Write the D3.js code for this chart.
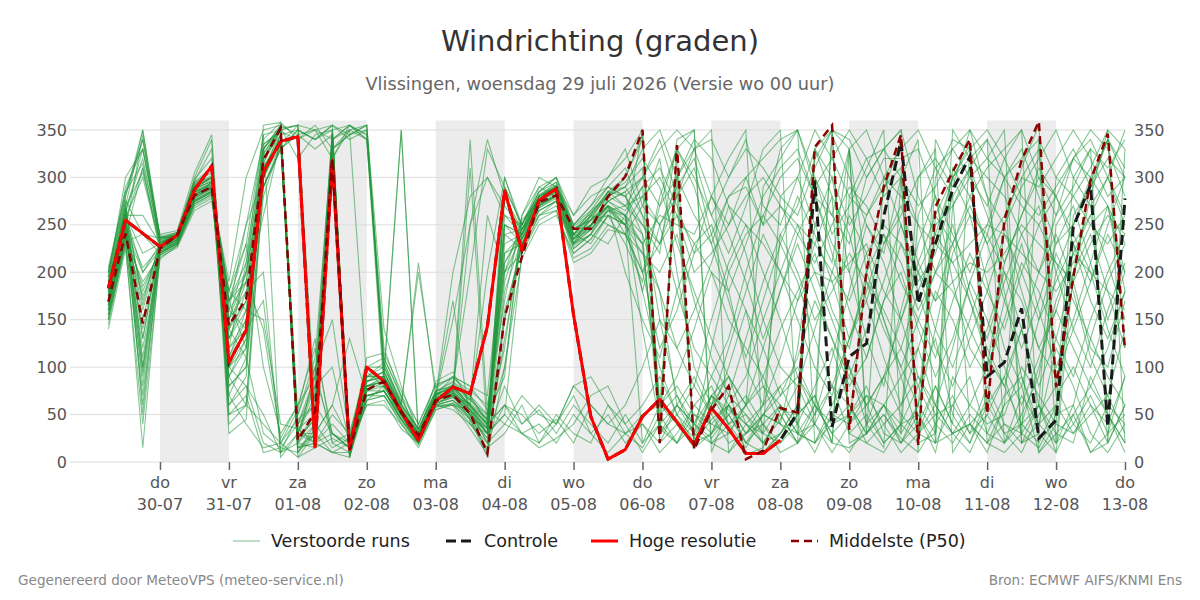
<!DOCTYPE html>
<html lang="nl">
<head>
<meta charset="utf-8">
<title>Windrichting (graden)</title>
<script src="https://d3js.org/d3.v7.min.js"></script>
<style>
  body { margin: 0; background: #fff; }
  svg text { font-family: "DejaVu Sans", Verdana, sans-serif; }
</style>
</head>
<body>
<div id="chart"></div>
<script>
// run start, 6-hourly steps
var startTime = new Date(2026, 6, 29, 6);
var endTime = new Date(2026, 7, 13, 0);
var stepHours = 6;

var yTicks = [0, 50, 100, 150, 200, 250, 300, 350];
var dayNames = ["zo", "ma", "di", "wo", "do", "vr", "za"];

// hoge resolutie (ends 08-08)
var hiRes = [183, 255, 241, 227, 239, 287, 312, 105, 139, 306,
             338, 343, 16, 318, 13, 100, 85, 53, 23, 64,
             79, 72, 143, 286, 223, 276, 288, 155, 48, 3,
             13, 48, 66, 42, 18, 57, 35, 9, 9, 23];

// controle: hidden under the red line until 08-08
var control = [183, 255, 241, 227, 239, 287, 312, 105, 139, 306,
               338, 343, 16, 318, 13, 100, 85, 53, 23, 64,
               79, 72, 143, 286, 223, 276, 288, 155, 48, 3,
               13, 48, 66, 42, 18, 57, 35, 9, 9, 23,
               52, 297, 37, 111, 125, 259, 338, 167, 230, 287,
               322, 90, 105, 162, 25, 44, 248, 292, 37, 278];

// middelste (P50)
var median = [169, 241, 146, 225, 239, 281, 290, 144, 172, 318,
              352, 23, 53, 320, 13, 76, 85, 53, 28, 65,
              71, 51, 9, 153, 216, 274, 281, 246, 246, 280,
              301, 350, 20, 334, 13, 55, 80, 3, 12, 57,
              52, 332, 355, 34, 202, 290, 345, 18, 269, 306,
              340, 51, 255, 318, 359, 79, 195, 297, 346, 118];

// verstoorde runs
var members = [
  [175, 250, 160, 228, 238, 282, 292, 140, 170, 315, 350, 25, 45, 325, 15, 80, 88, 55, 30, 66, 72, 50, 12, 160, 225, 272, 282, 245, 248, 278, 300, 345, 25, 330, 15, 60, 78, 8, 15, 55, 50, 320, 350, 40, 200, 285, 340, 20, 260, 300, 335, 55, 250, 310, 355, 80, 190, 295, 340, 120],
  [190, 265, 320, 232, 240, 290, 300, 90, 120, 330, 355, 10, 35, 345, 20, 95, 80, 50, 25, 70, 80, 60, 30, 210, 240, 280, 290, 235, 255, 270, 260, 230, 60, 45, 25, 70, 55, 40, 30, 280, 300, 250, 210, 330, 40, 60, 30, 260, 310, 280, 40, 20, 60, 300, 330, 20, 230, 260, 300, 250],
  [160, 240, 120, 220, 232, 275, 285, 170, 200, 300, 340, 40, 90, 350, 10, 70, 75, 45, 20, 60, 65, 45, 25, 250, 230, 265, 275, 225, 240, 285, 270, 300, 340, 280, 20, 45, 60, 30, 50, 40, 20, 60, 345, 300, 250, 220, 300, 30, 80, 40, 330, 280, 180, 90, 30, 10, 200, 280, 350, 330],
  [200, 280, 340, 235, 242, 295, 310, 60, 80, 20, 10, 50, 100, 20, 30, 90, 100, 60, 35, 75, 85, 70, 40, 60, 50, 30, 45, 20, 60, 40, 30, 15, 50, 70, 40, 90, 60, 20, 10, 30, 60, 40, 20, 15, 30, 50, 25, 10, 40, 70, 30, 80, 40, 20, 60, 30, 50, 10, 20, 60],
  [150, 230, 90, 218, 228, 270, 280, 120, 150, 290, 330, 350, 340, 355, 5, 65, 70, 40, 15, 55, 60, 35, 8, 100, 215, 250, 260, 220, 235, 260, 250, 280, 300, 260, 230, 250, 200, 240, 260, 300, 320, 280, 260, 230, 300, 330, 350, 10, 340, 300, 260, 240, 300, 330, 280, 230, 250, 290, 320, 300],
  [185, 270, 350, 238, 236, 300, 340, 40, 60, 40, 20, 5, 30, 60, 25, 100, 110, 70, 40, 80, 90, 80, 55, 40, 30, 15, 25, 40, 70, 80, 40, 60, 90, 50, 30, 20, 10, 30, 60, 240, 270, 330, 350, 20, 30, 60, 90, 120, 60, 30, 10, 50, 90, 140, 60, 20, 40, 70, 30, 90],
  [170, 255, 150, 226, 238, 285, 288, 180, 230, 345, 5, 30, 70, 340, 355, 345, 120, 70, 25, 65, 75, 250, 340, 280, 245, 285, 300, 250, 270, 290, 280, 250, 220, 340, 350, 20, 40, 60, 290, 320, 350, 300, 240, 270, 310, 350, 30, 60, 250, 270, 310, 340, 20, 50, 90, 200, 250, 300, 270, 200],
  [165, 245, 110, 222, 230, 280, 295, 100, 140, 310, 345, 15, 20, 10, 5, 85, 95, 60, 210, 70, 170, 40, 15, 30, 60, 20, 40, 70, 30, 50, 20, 40, 10, 30, 60, 80, 40, 15, 50, 80, 40, 10, 50, 90, 60, 20, 40, 80, 130, 50, 20, 60, 30, 10, 50, 80, 40, 20, 60, 40],
  [195, 300, 330, 240, 244, 305, 345, 70, 110, 355, 358, 340, 355, 330, 345, 355, 140, 80, 30, 85, 95, 60, 200, 300, 250, 290, 280, 230, 260, 250, 240, 200, 270, 300, 260, 230, 280, 300, 250, 270, 240, 210, 250, 290, 270, 230, 260, 300, 320, 290, 350, 320, 300, 270, 250, 280, 320, 340, 300, 260],
  [155, 235, 70, 216, 226, 265, 275, 160, 190, 140, 25, 60, 120, 30, 15, 60, 65, 35, 20, 60, 60, 55, 20, 130, 235, 260, 270, 230, 250, 275, 260, 240, 35, 20, 40, 25, 50, 20, 40, 60, 30, 20, 60, 100, 40, 15, 300, 340, 20, 60, 90, 30, 20, 70, 40, 120, 80, 30, 10, 40],
  [180, 260, 200, 230, 240, 290, 300, 110, 160, 325, 352, 320, 345, 350, 8, 75, 85, 50, 25, 68, 70, 45, 5, 290, 250, 280, 295, 240, 265, 280, 290, 330, 350, 300, 20, 30, 50, 70, 40, 20, 50, 70, 20, 330, 350, 300, 280, 250, 230, 300, 320, 300, 280, 240, 200, 260, 320, 350, 330, 280],
  [140, 225, 40, 214, 228, 268, 278, 180, 250, 300, 340, 20, 40, 340, 12, 90, 90, 55, 30, 62, 68, 62, 45, 220, 240, 275, 285, 240, 230, 260, 230, 190, 280, 330, 300, 260, 220, 270, 330, 350, 30, 60, 40, 50, 80, 30, 20, 50, 10, 90, 60, 100, 210, 260, 300, 280, 240, 200, 180, 160],
  [205, 285, 315, 236, 238, 292, 310, 80, 100, 280, 335, 355, 20, 40, 20, 110, 115, 75, 40, 82, 88, 75, 60, 170, 260, 300, 290, 260, 290, 300, 320, 350, 30, 50, 20, 70, 90, 40, 20, 45, 80, 40, 350, 330, 200, 150, 90, 30, 20, 270, 300, 320, 350, 20, 30, 250, 280, 310, 350, 20],
  [175, 250, 180, 225, 235, 282, 290, 130, 180, 200, 10, 30, 80, 350, 10, 65, 80, 50, 25, 60, 55, 40, 30, 80, 40, 55, 30, 60, 40, 20, 50, 20, 60, 40, 15, 30, 70, 50, 30, 60, 30, 40, 80, 60, 20, 10, 40, 50, 20, 30, 40, 20, 10, 30, 15, 50, 60, 10, 30, 50],
  [160, 245, 345, 228, 234, 278, 290, 170, 210, 320, 345, 25, 50, 330, 345, 355, 90, 60, 30, 72, 78, 65, 50, 200, 255, 275, 290, 250, 270, 300, 330, 270, 250, 280, 330, 350, 10, 40, 20, 50, 20, 330, 300, 250, 280, 320, 320, 330, 280, 240, 200, 250, 300, 320, 340, 300, 280, 250, 230, 260],
  [190, 275, 100, 234, 240, 295, 305, 60, 90, 330, 350, 5, 15, 25, 15, 70, 75, 45, 20, 58, 62, 40, 20, 240, 225, 260, 265, 210, 220, 245, 240, 220, 180, 60, 40, 20, 30, 60, 90, 50, 20, 40, 10, 40, 70, 60, 20, 40, 80, 40, 20, 70, 30, 40, 20, 60, 30, 50, 70, 30],
  [170, 260, 220, 230, 238, 288, 296, 150, 200, 310, 340, 40, 60, 320, 355, 340, 100, 65, 35, 75, 80, 60, 40, 100, 240, 270, 280, 235, 245, 265, 270, 250, 230, 300, 340, 320, 270, 250, 230, 200, 170, 200, 190, 210, 230, 180, 150, 200, 240, 210, 230, 250, 240, 220, 200, 180, 210, 250, 270, 230],
  [145, 230, 15, 220, 230, 272, 282, 190, 300, 350, 355, 345, 330, 345, 5, 80, 90, 350, 25, 65, 70, 310, 30, 50, 30, 20, 50, 30, 20, 60, 40, 10, 40, 330, 350, 10, 60, 40, 60, 80, 100, 60, 30, 10, 40, 90, 50, 30, 60, 30, 40, 10, 60, 80, 10, 30, 20, 90, 50, 10],
  [180, 270, 305, 232, 238, 290, 298, 50, 70, 10, 15, 10, 40, 15, 25, 85, 95, 55, 30, 68, 72, 55, 30, 280, 240, 280, 290, 240, 260, 285, 280, 300, 330, 350, 330, 280, 250, 300, 320, 340, 350, 20, 40, 60, 30, 300, 330, 350, 310, 330, 350, 280, 250, 290, 320, 350, 300, 270, 300, 350],
  [165, 240, 140, 224, 232, 276, 286, 170, 120, 300, 335, 30, 20, 10, 20, 60, 60, 40, 18, 55, 62, 48, 35, 300, 245, 268, 278, 228, 240, 268, 250, 20, 40, 60, 30, 70, 40, 50, 20, 30, 60, 330, 280, 30, 50, 20, 40, 300, 330, 10, 40, 60, 90, 30, 60, 300, 330, 290, 50, 20],
  [200, 290, 330, 238, 242, 298, 320, 30, 45, 300, 355, 50, 110, 340, 355, 340, 75, 50, 25, 70, 90, 80, 70, 250, 240, 278, 290, 245, 255, 260, 250, 180, 250, 290, 320, 260, 300, 340, 270, 250, 300, 350, 320, 280, 260, 290, 310, 20, 30, 310, 280, 310, 330, 350, 300, 260, 290, 330, 310, 340],
  [175, 255, 80, 227, 236, 284, 294, 120, 140, 170, 20, 45, 60, 30, 15, 75, 80, 48, 22, 62, 68, 52, 20, 40, 70, 50, 40, 80, 90, 60, 30, 50, 60, 80, 50, 40, 60, 30, 50, 70, 90, 60, 30, 50, 70, 40, 60, 90, 50, 30, 60, 40, 50, 100, 70, 40, 30, 60, 40, 90],
  [155, 238, 310, 222, 230, 275, 285, 90, 60, 290, 330, 350, 340, 355, 345, 350, 95, 350, 30, 66, 75, 340, 50, 220, 230, 270, 280, 230, 240, 230, 260, 290, 310, 270, 220, 240, 280, 290, 250, 330, 350, 290, 320, 350, 320, 280, 300, 250, 200, 230, 270, 230, 260, 300, 290, 320, 350, 320, 280, 300],
  [185, 265, 50, 230, 240, 286, 292, 160, 250, 340, 358, 15, 30, 345, 20, 80, 85, 52, 28, 70, 74, 58, 40, 120, 250, 285, 300, 240, 250, 270, 250, 350, 20, 40, 20, 60, 90, 60, 30, 20, 40, 300, 260, 330, 30, 60, 40, 20, 300, 340, 330, 20, 40, 30, 340, 70, 100, 60, 20, 330],
  [170, 250, 130, 226, 234, 280, 288, 70, 40, 15, 20, 55, 130, 20, 10, 70, 70, 45, 20, 60, 65, 50, 25, 60, 30, 40, 20, 50, 30, 10, 30, 40, 20, 60, 90, 50, 20, 30, 40, 10, 20, 50, 80, 30, 20, 40, 10, 30, 50, 60, 30, 50, 20, 40, 60, 10, 50, 80, 50, 20],
  [195, 280, 350, 236, 240, 294, 300, 100, 130, 320, 350, 355, 350, 340, 350, 85, 90, 55, 30, 72, 78, 60, 45, 280, 235, 270, 285, 240, 260, 280, 290, 310, 60, 300, 330, 340, 300, 330, 310, 280, 260, 310, 350, 340, 300, 330, 350, 280, 240, 300, 330, 350, 320, 280, 260, 290, 320, 300, 340, 310],
  [160, 245, 200, 224, 232, 278, 288, 150, 180, 260, 340, 30, 90, 300, 15, 90, 90, 55, 28, 68, 150, 250, 300, 260, 240, 280, 290, 245, 255, 270, 240, 200, 230, 260, 200, 220, 250, 280, 300, 270, 250, 230, 200, 170, 220, 250, 230, 200, 170, 190, 210, 200, 220, 250, 230, 210, 190, 230, 260, 240],
  [150, 235, 190, 218, 228, 272, 282, 140, 200, 335, 350, 20, 50, 340, 10, 80, 85, 50, 25, 65, 70, 50, 30, 180, 235, 272, 280, 232, 248, 275, 265, 290, 30, 60, 40, 70, 50, 20, 50, 40, 30, 20, 50, 40, 60, 90, 120, 80, 40, 20, 50, 30, 70, 90, 40, 20, 60, 130, 90, 60],
  [185, 265, 170, 232, 240, 288, 300, 130, 160, 150, 40, 35, 20, 50, 30, 100, 100, 60, 35, 75, 80, 68, 45, 210, 245, 278, 290, 235, 255, 285, 300, 340, 50, 20, 60, 40, 30, 60, 80, 60, 40, 80, 120, 60, 30, 50, 20, 60, 30, 350, 320, 340, 300, 20, 40, 60, 300, 330, 20, 60],
  [175, 258, 300, 228, 236, 284, 294, 80, 100, 330, 355, 30, 30, 10, 10, 65, 70, 42, 20, 58, 60, 45, 10, 150, 230, 265, 275, 220, 235, 260, 250, 230, 260, 250, 240, 280, 320, 350, 10, 30, 50, 70, 20, 280, 320, 330, 300, 270, 290, 330, 300, 270, 320, 350, 10, 40, 260, 290, 340, 300],
  [165, 250, 95, 225, 234, 280, 290, 120, 210, 345, 350, 355, 60, 345, 10, 80, 80, 50, 25, 65, 75, 55, 35, 250, 240, 275, 285, 235, 250, 270, 200, 150, 110, 180, 230, 200, 150, 120, 90, 140, 180, 220, 160, 120, 200, 240, 190, 150, 110, 170, 220, 180, 140, 200, 250, 210, 170, 130, 190, 230],
  [180, 262, 330, 230, 238, 288, 296, 150, 220, 330, 352, 30, 25, 335, 20, 90, 95, 55, 30, 70, 80, 200, 330, 290, 250, 285, 295, 250, 265, 290, 310, 260, 150, 70, 30, 120, 200, 160, 80, 40, 120, 250, 300, 200, 130, 80, 160, 230, 280, 190, 120, 90, 170, 230, 160, 100, 150, 210, 270, 180],
  [170, 248, 60, 224, 232, 278, 288, 100, 80, 50, 10, 20, 100, 150, 25, 90, 105, 62, 200, 78, 90, 70, 50, 90, 260, 290, 300, 260, 280, 290, 280, 240, 180, 120, 160, 210, 270, 220, 150, 100, 80, 140, 200, 260, 220, 150, 100, 60, 140, 220, 260, 190, 120, 80, 150, 220, 180, 110, 70, 140],
  [190, 270, 165, 234, 240, 290, 300, 140, 190, 290, 330, 345, 350, 320, 350, 355, 85, 58, 28, 70, 82, 65, 260, 200, 220, 255, 265, 215, 225, 250, 240, 270, 320, 200, 100, 60, 120, 180, 240, 200, 150, 100, 70, 130, 180, 240, 210, 160, 200, 250, 180, 130, 190, 240, 270, 200, 140, 100, 160, 210],
  [150, 232, 240, 220, 230, 274, 284, 170, 230, 100, 30, 60, 90, 30, 15, 75, 75, 45, 22, 62, 70, 55, 30, 50, 220, 260, 275, 230, 245, 270, 255, 230, 60, 90, 140, 200, 180, 100, 60, 110, 170, 230, 280, 240, 170, 110, 60, 120, 180, 150, 100, 140, 200, 170, 120, 160, 220, 260, 210, 150],
  [200, 285, 340, 236, 240, 296, 330, 50, 60, 320, 355, 15, 20, 30, 20, 85, 90, 52, 28, 68, 72, 60, 40, 240, 245, 282, 292, 248, 262, 282, 295, 320, 290, 230, 180, 130, 90, 60, 120, 180, 230, 180, 130, 90, 140, 190, 250, 200, 140, 100, 150, 210, 250, 180, 120, 90, 140, 190, 240, 200],
  [160, 240, 185, 222, 232, 276, 286, 160, 140, 300, 345, 10, 30, 60, 130, 70, 75, 48, 22, 60, 65, 50, 30, 280, 230, 265, 275, 225, 240, 265, 260, 180, 100, 50, 80, 150, 210, 250, 200, 150, 90, 50, 110, 180, 250, 210, 150, 90, 60, 120, 190, 240, 200, 140, 80, 130, 200, 240, 180, 120],
  [175, 255, 310, 228, 236, 284, 292, 130, 170, 335, 348, 340, 350, 355, 340, 350, 110, 68, 30, 72, 78, 58, 38, 190, 245, 275, 290, 240, 255, 275, 285, 200, 120, 160, 220, 280, 240, 190, 130, 180, 240, 280, 220, 160, 110, 170, 230, 180, 120, 80, 130, 180, 240, 200, 150, 190, 230, 170, 130, 180],
  [185, 268, 130, 232, 240, 288, 296, 90, 130, 310, 340, 25, 45, 340, 5, 70, 75, 45, 22, 62, 70, 52, 30, 230, 240, 270, 282, 230, 245, 265, 250, 220, 200, 240, 170, 110, 70, 130, 190, 240, 200, 150, 180, 220, 190, 140, 100, 150, 200, 180, 140, 100, 150, 210, 180, 130, 90, 150, 200, 240],
  [170, 250, 205, 226, 234, 282, 290, 110, 150, 320, 350, 20, 15, 345, 15, 80, 85, 50, 25, 66, 74, 56, 36, 260, 250, 280, 290, 245, 258, 280, 270, 280, 250, 180, 120, 90, 130, 200, 260, 230, 190, 130, 80, 130, 190, 160, 120, 180, 230, 210, 170, 110, 80, 140, 200, 240, 190, 120, 100, 170],
  [155, 236, 175, 220, 230, 274, 284, 180, 160, 290, 335, 35, 50, 330, 350, 340, 95, 58, 28, 68, 76, 60, 40, 60, 40, 60, 40, 80, 60, 40, 60, 100, 150, 120, 80, 50, 100, 160, 120, 70, 110, 170, 130, 80, 110, 170, 200, 140, 90, 130, 190, 150, 100, 60, 110, 160, 120, 80, 120, 180],
  [195, 276, 240, 236, 242, 292, 302, 100, 120, 300, 345, 350, 340, 350, 355, 345, 105, 62, 34, 74, 84, 66, 44, 200, 238, 268, 280, 235, 250, 275, 285, 300, 270, 330, 290, 230, 170, 110, 170, 230, 280, 240, 190, 130, 170, 230, 270, 210, 170, 230, 280, 230, 170, 120, 170, 230, 270, 210, 150, 200],
  [165, 245, 100, 224, 234, 280, 290, 140, 110, 30, 15, 40, 80, 100, 20, 80, 85, 50, 25, 66, 72, 55, 35, 150, 235, 270, 282, 238, 250, 270, 260, 140, 40, 20, 50, 30, 60, 90, 150, 200, 250, 200, 150, 100, 60, 90, 150, 210, 260, 230, 170, 120, 80, 40, 100, 170, 220, 200, 140, 90],
  [180, 260, 260, 230, 238, 286, 294, 170, 190, 325, 352, 355, 20, 345, 10, 85, 90, 52, 28, 70, 200, 280, 300, 270, 245, 280, 292, 245, 262, 285, 290, 260, 230, 280, 310, 240, 180, 230, 280, 310, 330, 280, 230, 200, 260, 300, 250, 190, 220, 280, 310, 260, 210, 260, 310, 280, 230, 190, 250, 300]
];

var width = 1200, height = 600;
var plotLeft = 70, plotRight = 1125;

var x = d3.scaleTime()
  .domain([startTime, endTime])
  .range([108.3, 1125]);

var y = d3.scaleLinear()
  .domain([0, 360])
  .range([462, 120.5]);

function timeAt(i) {
  return d3.timeHour.offset(startTime, i * stepHours);
}

var svg = d3.select("#chart")
  .append("svg")
  .attr("width", width)
  .attr("height", height);

// titles
svg.append("text")
  .attr("x", 600).attr("y", 51)
  .attr("text-anchor", "middle")
  .style("font-size", "29px")
  .style("fill", "#333")
  .text("Windrichting (graden)");

svg.append("text")
  .attr("x", 600).attr("y", 90)
  .attr("text-anchor", "middle")
  .style("font-size", "17.7px")
  .style("fill", "#666")
  .text("Vlissingen, woensdag 29 juli 2026 (Versie wo 00 uur)");

// shaded days (every other day from do 30-07)
var firstDay = new Date(2026, 6, 30);
var shadeDays = d3.range(0, 14, 2).map(function(k) { return d3.timeDay.offset(firstDay, k); });

svg.append("g").selectAll("rect")
  .data(shadeDays)
  .enter().append("rect")
  .attr("x", function(d) { return x(d); })
  .attr("y", y(360))
  .attr("width", function(d) { return x(d3.timeDay.offset(d, 1)) - x(d); })
  .attr("height", y(0) - y(360))
  .attr("fill", "#ececec");

// grid
svg.append("g").selectAll("line")
  .data(yTicks)
  .enter().append("line")
  .attr("x1", plotLeft).attr("x2", plotRight)
  .attr("y1", function(d) { return y(d); })
  .attr("y2", function(d) { return y(d); })
  .attr("stroke", "#dcdcdc")
  .attr("stroke-width", 1);

// y labels both sides
var yl = svg.append("g").style("font-size", "16px").style("fill", "#555");
yl.selectAll("text.l")
  .data(yTicks)
  .enter().append("text")
  .attr("class", "l")
  .attr("x", 67)
  .attr("y", function(d) { return y(d); })
  .attr("dy", "0.35em")
  .attr("text-anchor", "end")
  .text(function(d) { return d; });
yl.selectAll("text.r")
  .data(yTicks)
  .enter().append("text")
  .attr("class", "r")
  .attr("x", 1134)
  .attr("y", function(d) { return y(d); })
  .attr("dy", "0.35em")
  .attr("text-anchor", "start")
  .text(function(d) { return d; });

// x axis
var tickDays = d3.timeDay.range(firstDay, d3.timeHour.offset(endTime, 1));
var xAxis = d3.axisBottom(x)
  .tickValues(tickDays)
  .tickSize(8)
  .tickFormat("");

var gx = svg.append("g")
  .attr("transform", "translate(0," + y(0) + ")")
  .call(xAxis);
gx.select(".domain").remove();
gx.selectAll(".tick line").attr("stroke", "#666").attr("stroke-width", 1.5);

var fmtDate = d3.timeFormat("%d-%m");
var xl = svg.append("g").style("font-size", "16px").style("fill", "#555");
xl.selectAll("text.wd")
  .data(tickDays)
  .enter().append("text")
  .attr("x", function(d) { return x(d); })
  .attr("y", 488)
  .attr("text-anchor", "middle")
  .text(function(d) { return dayNames[d.getDay()]; });
xl.selectAll("text.dt")
  .data(tickDays)
  .enter().append("text")
  .attr("x", function(d) { return x(d); })
  .attr("y", 510)
  .attr("text-anchor", "middle")
  .text(function(d) { return fmtDate(d); });

// lines
var line = d3.line()
  .x(function(d, i) { return x(timeAt(i)); })
  .y(function(d) { return y(d); });

svg.append("g").selectAll("path")
  .data(members)
  .enter().append("path")
  .attr("d", line)
  .attr("fill", "none")
  .attr("stroke", "#21973a")
  .attr("stroke-opacity", 0.55)
  .attr("stroke-width", 1.1);

svg.append("path")
  .datum(control)
  .attr("d", line)
  .attr("fill", "none")
  .attr("stroke", "#1a1a1a")
  .attr("stroke-width", 3)
  .attr("stroke-dasharray", "10,5");

svg.append("path")
  .datum(hiRes)
  .attr("d", line)
  .attr("fill", "none")
  .attr("stroke", "#ff0000")
  .attr("stroke-width", 3)
  .attr("stroke-linejoin", "round");

svg.append("path")
  .datum(median)
  .attr("d", line)
  .attr("fill", "none")
  .attr("stroke", "#8b0000")
  .attr("stroke-width", 2.5)
  .attr("stroke-dasharray", "8,5");

// legend
var legendItems = [
  { label: "Verstoorde runs", x: 233, color: "#21973a", w: 1, dash: null, op: 0.6 },
  { label: "Controle", x: 446, color: "#1a1a1a", w: 3, dash: "10,5", op: 1 },
  { label: "Hoge resolutie", x: 591, color: "#ff0000", w: 3, dash: null, op: 1 },
  { label: "Middelste (P50)", x: 791, color: "#8b0000", w: 2.5, dash: "8,5", op: 1 }
];
var lg = svg.append("g").selectAll("g")
  .data(legendItems)
  .enter().append("g")
  .attr("transform", function(d) { return "translate(" + d.x + ",541)"; });
lg.append("line")
  .attr("x1", 0).attr("x2", 27)
  .attr("stroke", function(d) { return d.color; })
  .attr("stroke-width", function(d) { return d.w; })
  .attr("stroke-opacity", function(d) { return d.op; })
  .attr("stroke-dasharray", function(d) { return d.dash; });
lg.append("text")
  .attr("x", 38)
  .attr("dy", "0.35em")
  .style("font-size", "17.5px")
  .style("fill", "#222")
  .text(function(d) { return d.label; });

// footer
svg.append("text")
  .attr("x", 18).attr("y", 585)
  .style("font-size", "13.6px")
  .style("fill", "#888")
  .text("Gegenereerd door MeteoVPS (meteo-service.nl)");
svg.append("text")
  .attr("x", 1182).attr("y", 585)
  .attr("text-anchor", "end")
  .style("font-size", "13.6px")
  .style("fill", "#888")
  .text("Bron: ECMWF AIFS/KNMI Ens");
</script>
</body>
</html>
